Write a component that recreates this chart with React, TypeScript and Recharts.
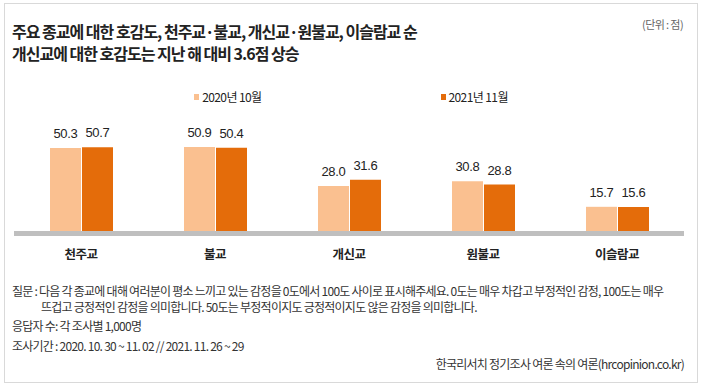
import React from "react";
import { BarChart, Bar, XAxis, YAxis, LabelList } from "recharts";

const categories = ["천주교", "불교", "개신교", "원불교", "이슬람교"];
const series2020 = [50.3, 50.9, 28.0, 30.8, 15.7];
const series2021 = [50.7, 50.4, 31.6, 28.8, 15.6];
const seriesNames = ["2020년 10월", "2021년 11월"];
const seriesColors = ["#FAC090", "#E46C0A"];

const titleLines = [
  "주요 종교에 대한 호감도, 천주교·불교, 개신교·원불교, 이슬람교 순",
  "개신교에 대한 호감도는 지난 해 대비 3.6점 상승",
];
const noteQuestion = [
  "질문 : 다음 각 종교에 대해 여러분이 평소 느끼고 있는 감정을 0도에서 100도 사이로 표시해주세요. 0도는 매우 차갑고 부정적인 감정, 100도는 매우",
  "뜨겁고 긍정적인 감정을 의미합니다. 50도는 부정적이지도 긍정적이지도 않은 감정을 의미합니다.",
];
const noteRespondents = "응답자 수: 각 조사별 1,000명";
const notePeriod = "조사기간 : 2020. 10. 30 ~ 11. 02 // 2021. 11. 26 ~ 29";
const noteSource = "한국리서치 정기조사 여론 속의 여론(hrcopinion.co.kr)";
const unitLabel = "(단위 : 점)";

const FONT = "'Noto Sans CJK KR', 'Noto Sans', sans-serif";
const NUM_FONT = "'Liberation Sans', Arial, sans-serif";

const data = categories.map((name, i) => ({
  name,
  y2020: series2020[i],
  y2021: series2021[i],
}));

const fmt = (v: any) => (v as number).toFixed(1);

function LegendBox() {
  return (
    <div
      style={{
        position: "absolute",
        top: 88,
        left: 0,
        width: 702,
        display: "flex",
        justifyContent: "center",
        gap: 179,
        fontFamily: FONT,
        fontSize: 12,
        letterSpacing: -0.6,
        color: "#222",
      }}
    >
      {seriesNames.map((n, i) => (
        <div key={n} style={{ display: "flex", alignItems: "center" }}>
          <span
            style={{
              width: 5,
              height: 6,
              background: seriesColors[i],
              display: "inline-block",
              marginRight: 3,
            }}
          />
          {n}
        </div>
      ))}
    </div>
  );
}

export default function App() {
  const noteStyle: React.CSSProperties = {
    position: "absolute",
    fontFamily: FONT,
    fontSize: 12,
    letterSpacing: -0.75,
    color: "#333",
    whiteSpace: "nowrap",
    lineHeight: "16px",
  };
  const labelStyle = { fontFamily: NUM_FONT, fontSize: 13, fill: "#222", letterSpacing: -0.3 };
  return (
    <div
      style={{
        position: "fixed",
        left: 0,
        top: 0,
        width: 702,
        height: 388,
        background: "#fff",
        overflow: "hidden",
      }}
    >
      <div
        style={{
          position: "absolute",
          left: 4,
          top: 3,
          width: 692,
          height: 378,
          border: "1px solid #d9d9d9",
        }}
      />
      {titleLines.map((t, i) => (
        <div
          key={t}
          style={{
            position: "absolute",
            left: 12,
            top: 20 + i * 22,
            fontFamily: FONT,
            fontWeight: 700,
            fontSize: 16,
            letterSpacing: -1.0,
            color: "#222",
            whiteSpace: "nowrap",
            lineHeight: "22px",
          }}
        >
          {t}
        </div>
      ))}
      <div
        style={{
          position: "absolute",
          right: 19,
          top: 16,
          fontFamily: FONT,
          fontSize: 11,
          letterSpacing: -0.6,
          color: "#666",
        }}
      >
        {unitLabel}
      </div>

      <LegendBox />

      <div style={{ position: "absolute", left: 0, top: 0 }}>
        <BarChart
          width={702}
          height={262}
          data={data}
          margin={{ top: 131.5, right: 18, bottom: 0, left: 14 }}
          barSize={31}
          barGap={1}
          barCategoryGap={0}
        >
          <YAxis hide domain={[0, 60]} />
          <Bar dataKey="y2020" name={seriesNames[0]} fill={seriesColors[0]} isAnimationActive={false}>
            <LabelList dataKey="y2020" position="top" offset={10} formatter={fmt} style={labelStyle} />
          </Bar>
          <Bar dataKey="y2021" name={seriesNames[1]} fill={seriesColors[1]} isAnimationActive={false}>
            <LabelList dataKey="y2021" position="top" offset={10} formatter={fmt} style={labelStyle} />
          </Bar>
          <XAxis
            dataKey="name"
            height={28.5}
            axisLine={{ stroke: "#bfbfbf", strokeWidth: 5 }}
            tickLine={false}
            tickMargin={11}
            interval={0}
            tick={{ fontFamily: FONT, fontSize: 12.5, fontWeight: 700, fill: "#222", letterSpacing: -0.5 }}
          />
        </BarChart>
      </div>

      {noteQuestion.map((t, i) => (
        <div key={t} style={{ ...noteStyle, left: i === 0 ? 12 : 41, top: 283 + i * 16 }}>
          {t}
        </div>
      ))}
      <div style={{ ...noteStyle, left: 12, top: 318 }}>{noteRespondents}</div>
      <div style={{ ...noteStyle, left: 12, top: 338 }}>{notePeriod}</div>
      <div style={{ ...noteStyle, right: 18, top: 356 }}>{noteSource}</div>
    </div>
  );
}
